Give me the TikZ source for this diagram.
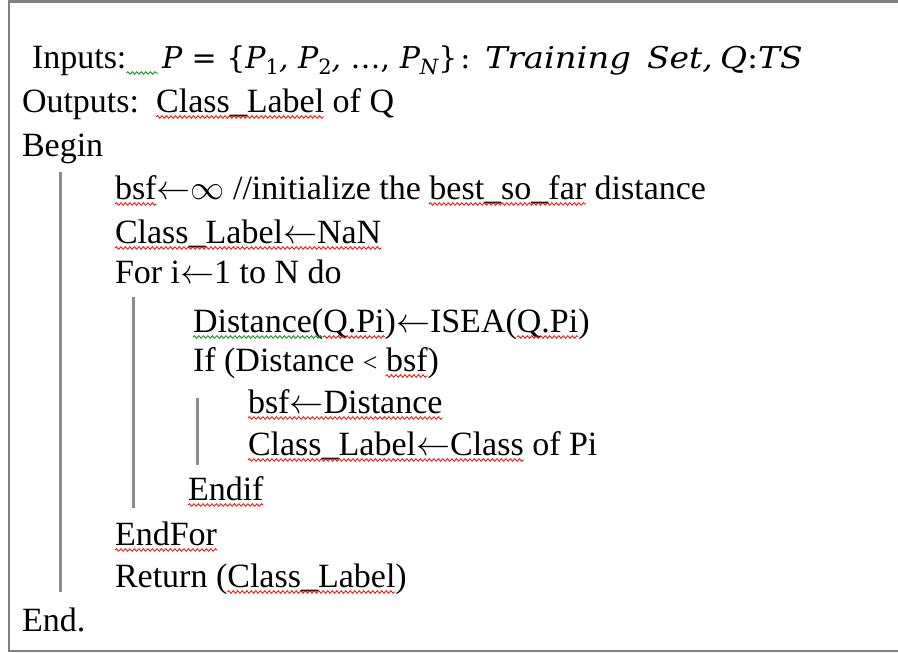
\RequirePackage{fix-cm}
\documentclass[tikz,border=0pt]{standalone}
\usepackage{fontspec}
\setmainfont{Liberation Serif}
\newfontfamily\eqfont{DejaVu Serif}
\usetikzlibrary{decorations.pathmorphing}
\newcommand{\lowidx}[1]{\raisebox{-0.22em}{\fontsize{21}{21}\selectfont #1}}
\newcommand{\la}{$\leftarrow$}
\begin{document}
\begin{tikzpicture}[x=1pt,y=-1pt,
  txt/.style={inner sep=0pt, outer sep=0pt, font=\fontsize{34}{40}\selectfont, anchor=base west},
  eq/.style={txt, font=\fontsize{30}{36}\eqfont\itshape},
  frame/.style={draw=black!50, line width=2.5pt},
  bar/.style={draw=black!45, line width=3pt},
  spell/.style={draw=red, line width=0.8pt, decorate,
    decoration={snake, amplitude=1.3pt, segment length=4.5pt}},
  gram/.style={spell, draw=green!55!black}]
\useasboundingbox (0,0) rectangle (898,653);

% frame (open on the right)
\draw[frame] (898,1.5) -- (9,1.5) -- (9,651) -- (898,651);

% header
\node[txt] (in1) at (32,68) {Inputs:};
\node[eq] (m1) at (162,68) {P \upshape= \{\itshape P\lowidx{\upshape 1}, P\lowidx{\upshape 2}, \upshape…, \itshape P\lowidx{N}\upshape\}};
\node[eq] (m2) at ([xshift=3pt]m1.base east) {\upshape:};
\node[eq] (m3) at (485,68) {\scalebox{1.13}[1]{Training}};
\node[eq] (m3b) at (647,68) {\scalebox{1.1}[1]{Set,}};
\node[eq] (m4) at (720,68) {\scalebox{1.1}[1]{Q\upshape:\itshape TS}};
\node[txt] (o1) at (22,112) {Outputs:};
\node[txt] (o2) at (o1.base east) {~~Class\_Label};
\node[txt] (o3) at (o2.base east) {~of Q};
\node[txt] (bg) at (22,156) {Begin};

% loop body
\node[txt] (b1) at (115,199) {bsf};
\node[txt] (b2) at (b1.base east) {\la$\infty$ //initialize the};
\node[txt] (b3) at (b2.base east) {~best\_so\_far};
\node[txt] (b4) at (b3.base east) {~distance};
\node[txt] (c1) at (115,243) {Class\_Label\la NaN};
\node[txt] (fr) at (115,283) {For i\la 1 to N do};
\node[txt] (d1) at (193,332) {Distance(};
\node[txt] (d2) at (d1.base east) {Q.Pi};
\node[txt] (d3) at (d2.base east) {)\la ISEA(};
\node[txt] (d4) at (d3.base east) {Q.Pi};
\node[txt] (d5) at (d4.base east) {)};
\node[txt] (e1) at (193,371) {If (Distance};
\node[txt] (e1b) at (e1.base east) {~{\fontsize{26}{30}\selectfont <}};
\node[txt] (e2) at (e1b.base east) {~bsf};
\node[txt] (e3) at (e2.base east) {)};
\node[txt] (f1) at (248,413) {bsf\la Distance};
\node[txt] (g1) at (248,455) {Class\_Label\la Class};
\node[txt] (g2) at (g1.base east) {~of Pi};
\node[txt] (ei) at (188,500) {Endif};
\node[txt] (ef) at (115,545) {EndFor};
\node[txt] (r1) at (115,587) {Return (};
\node[txt] (r2) at (r1.base east) {Class\_Label};
\node[txt] (r3) at (r2.base east) {)};
\node[txt] (en) at (22,631) {End.};

% block bars
\coordinate (s1) at (60,172);  \coordinate (t1) at (60,592);
\coordinate (s2) at (133,297); \coordinate (t2) at (133,508);
\coordinate (s3) at (197,398); \coordinate (t3) at (197,465);
\draw[bar] (s1) -- (t1);
\draw[bar] (s2) -- (t2);
\draw[bar] (s3) -- (t3);

% proofing marks
\draw[gram] ([yshift=-5pt]in1.base east) -- ([yshift=-5pt,xshift=-4pt]m1.base west);
\foreach \n in {b1,c1,d2,d4,f1,g1,ei,ef,r2}
  \draw[spell] ([yshift=-5pt]\n.base west) -- ([yshift=-5pt]\n.base east);
\draw[spell] ([yshift=-5pt,xshift=17pt]o2.base west) -- ([yshift=-5pt]o2.base east);
\draw[spell] ([yshift=-5pt,xshift=8pt]b3.base west) -- ([yshift=-5pt]b3.base east);
\draw[spell] ([yshift=-5pt,xshift=8pt]e2.base west) -- ([yshift=-5pt]e2.base east);
\draw[gram] ([yshift=-5pt]d1.base west) -- ([yshift=-5pt]d1.base east);
\end{tikzpicture}
\end{document}
